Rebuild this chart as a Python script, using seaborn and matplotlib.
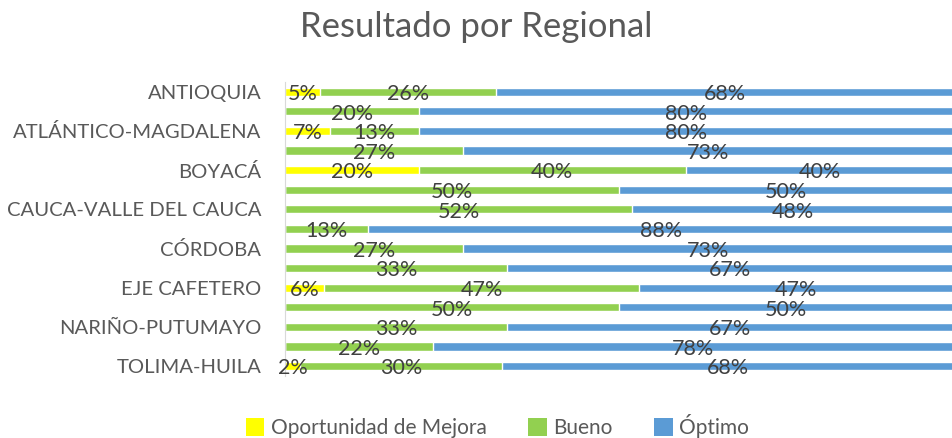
import numpy as np
import pandas as pd
import matplotlib
matplotlib.use("Agg")
import matplotlib.pyplot as plt
import seaborn as sns
from matplotlib.patches import Patch

# regionals, top to bottom (only every other one is labelled in the chart)
regionales = ["ANTIOQUIA", "ARAUCA", "ATLÁNTICO-MAGDALENA", "BOLÍVAR", "BOYACÁ",
              "CASANARE", "CAUCA-VALLE DEL CAUCA", "CESAR", "CÓRDOBA", "CUNDINAMARCA",
              "EJE CAFETERO", "META", "NARIÑO-PUTUMAYO", "SANTANDER", "TOLIMA-HUILA"]
oportunidad = [5.3, 0, 6.7, 0, 20, 0, 0, 0, 0, 0, 5.9, 0, 0, 0, 2.3]
bueno = [26.3, 20, 13.3, 26.7, 40, 50, 52, 12.5, 26.7, 33.3, 47.1, 50, 33.3, 22.2, 30.2]
optimo = [68.4, 80, 80, 73.3, 40, 50, 48, 87.5, 73.3, 66.7, 47.1, 50, 66.7, 77.8, 67.5]
series = ["Oportunidad de Mejora", "Bueno", "Óptimo"]
colores = ["#FFFF00", "#92D050", "#5B9BD5"]

df = pd.DataFrame({"regional": regionales, "op": oportunidad, "bu": bueno, "opt": optimo})
df["c1"] = df["op"]
df["c2"] = df["op"] + df["bu"]
df["c3"] = df["c2"] + df["opt"]

sns.set_style("white")
plt.rcParams["font.family"] = ["Lato", "DejaVu Sans"]

fig = plt.figure(figsize=(9.53, 4.38), dpi=100)
ax = fig.add_axes([0.299, 0.142, 0.701, 0.671])

w = 0.42
sns.barplot(data=df, x="c3", y="regional", color=colores[2], width=w, saturation=1, ax=ax)
sns.barplot(data=df, x="c2", y="regional", color=colores[1], width=w, saturation=1, ax=ax)
sns.barplot(data=df, x="c1", y="regional", color=colores[0], width=w, saturation=1, ax=ax)

# percent labels in the middle of each segment (half-up rounding like Excel)
for i in range(len(regionales)):
    start = 0
    for val in (oportunidad[i], bueno[i], optimo[i]):
        if val > 0:
            ax.text(start + val / 2, i + 0.12, f"{int(val + 0.5)}%", ha="center", va="center",
                    fontsize=15.5, color="#404040")
        start += val

ax.set_xlim(0, 100)
ax.set_ylim(len(regionales) - 0.5, -0.5)
ax.set_xlabel("")
ax.set_ylabel("")
ax.set_xticks([])
ax.set_yticks(range(0, len(regionales), 2))
ax.set_yticklabels(regionales[::2], fontsize=14.6, color="#595959")
ax.tick_params(axis="y", length=0, pad=17)
for s in ["top", "right", "bottom"]:
    ax.spines[s].set_visible(False)
ax.spines["left"].set_color("#D9D9D9")

fig.suptitle("Resultado por Regional", y=0.975, fontsize=25, color="#595959")

handles = [Patch(facecolor=c, edgecolor="none") for c in colores]
fig.legend(handles, series, loc="center", bbox_to_anchor=(0.522, 0.027), ncol=3, frameon=False,
           fontsize=15, labelcolor="#595959", handlelength=0.9, handleheight=0.9,
           handletextpad=0.3, columnspacing=2.0)

fig.savefig("out.png", dpi=100)
